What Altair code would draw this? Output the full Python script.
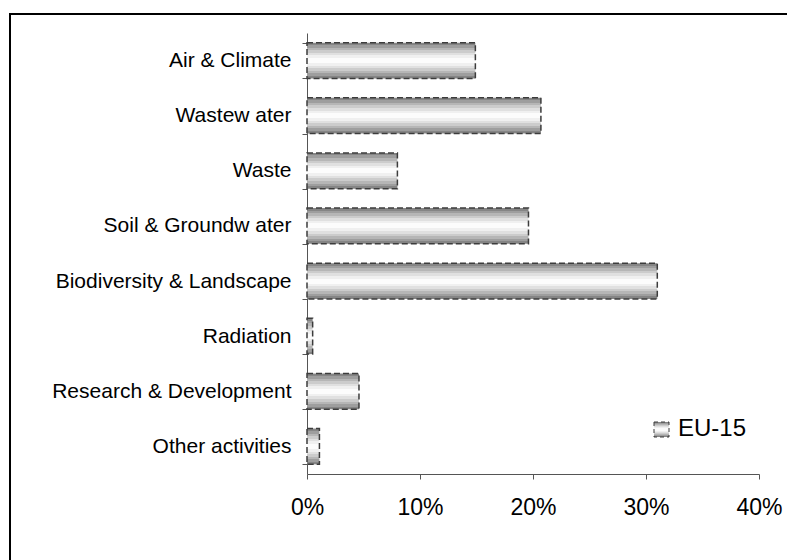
import altair as alt
import pandas as pd

# Share of environmental expenditure by domain, EU-15
categories = [
    "Air & Climate",
    "Wastew ater",
    "Waste",
    "Soil & Groundw ater",
    "Biodiversity & Landscape",
    "Radiation",
    "Research & Development",
    "Other activities",
]
shares = [0.149, 0.207, 0.080, 0.196, 0.310, 0.005, 0.046, 0.011]
series_name = "EU-15"
x_ticks = [0.0, 0.1, 0.2, 0.3, 0.4]

df = pd.DataFrame({"domain": categories, "share": shares})
legend_df = pd.DataFrame({"series": [series_name]})

# Banded grey "cylinder" fill: dark edges fading to white in the middle
levels = ["#858585", "#9e9e9e", "#b6b6b6", "#cccccc", "#e0e0e0", "#f0f0f0", "#fcfcfc"]
n_bands = 2 * len(levels)
stops = []
for i in range(n_bands):
    c = levels[min(i, n_bands - 1 - i)]
    stops.append({"offset": i / n_bands, "color": c})
    stops.append({"offset": (i + 1) / n_bands, "color": c})
bar_fill = {"gradient": "linear", "x1": 0, "y1": 0, "x2": 0, "y2": 1, "stops": stops}

FONT = "Liberation Sans"
EDGE = "#3c3c3c"

bars = alt.Chart(df).mark_bar(
    fill=bar_fill,
    stroke=EDGE,
    strokeWidth=1.5,
    strokeDash=[6, 3],
).encode(
    x=alt.X(
        "share:Q",
        scale=alt.Scale(domain=[0, 0.4], nice=False),
        axis=alt.Axis(
            values=x_ticks,
            format=".0%",
            title=None,
            grid=False,
            domainColor="#555555",
            tickColor="#555555",
            tickSize=5,
            labelFont=FONT,
            labelFontSize=23,
            labelColor="black",
            labelPadding=17,
            labelFlush=False,
        ),
    ),
    y=alt.Y(
        "domain:N",
        sort=categories,
        scale=alt.Scale(paddingInner=0.35, paddingOuter=0.175),
        axis=alt.Axis(
            title=None,
            grid=False,
            tickBand="extent",
            domainColor="#555555",
            tickColor="#555555",
            tickSize=5,
            labelFont=FONT,
            labelFontSize=21,
            labelColor="black",
            labelPadding=11,
            labelLimit=400,
        ),
    ),
)

# Outer frame of the chart area
frame = alt.Chart(legend_df).mark_rect(
    fill=None, stroke="black", strokeWidth=2
).encode(
    x=alt.value(-297), x2=alt.value(520),
    y=alt.value(-19), y2=alt.value(600),
)

# Legend entry: swatch and series name
swatch = alt.Chart(legend_df).mark_rect(
    fill=bar_fill, stroke=EDGE, strokeWidth=1, strokeDash=[4, 3]
).encode(
    x=alt.value(347), x2=alt.value(362),
    y=alt.value(389), y2=alt.value(404),
)
swatch_label = alt.Chart(legend_df).mark_text(
    align="left", baseline="middle", font=FONT, fontSize=24, color="black"
).encode(
    x=alt.value(371), y=alt.value(396), text="series:N",
)

chart = alt.layer(frame, bars, swatch, swatch_label).properties(
    width=452,
    height=441,
    autosize=alt.AutoSizeParams(type="none"),
    padding={"left": 307, "top": 33, "right": 28, "bottom": 86},
    background="white",
).configure_view(stroke=None)

chart.save("out.html", embed_options={"renderer": "svg", "actions": False})
